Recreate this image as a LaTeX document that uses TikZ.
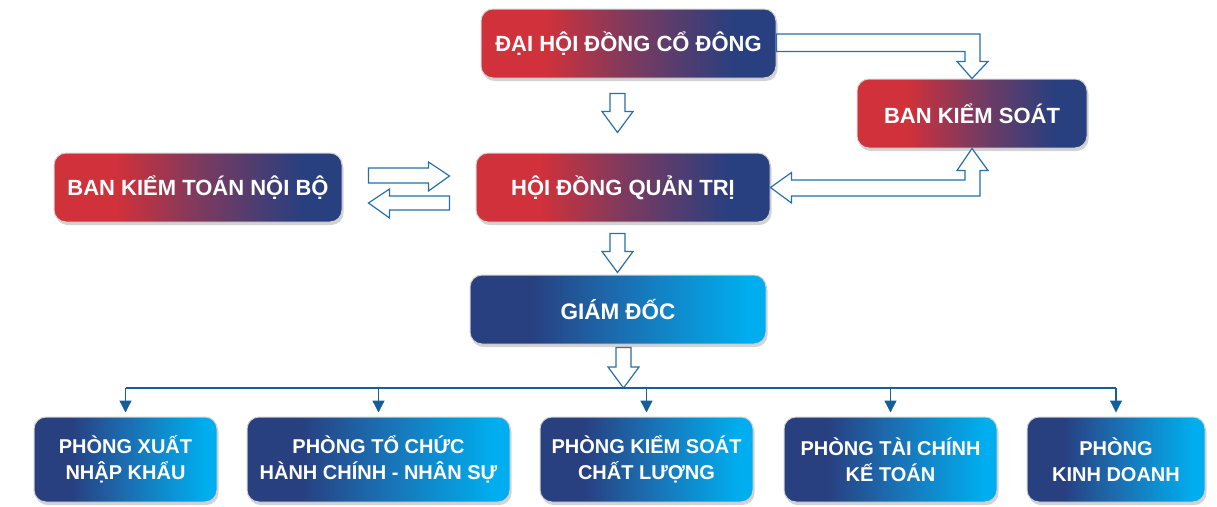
\documentclass[tikz,border=0pt]{standalone}
\usepackage{fontspec}
\setmainfont{Liberation Sans}
\usetikzlibrary{positioning,calc,shadows,arrows.meta}

\definecolor{cred}{HTML}{D0313A}
\definecolor{cplum}{HTML}{7E3A5E}
\definecolor{cnavy}{HTML}{283F80}
\definecolor{cblue}{HTML}{1B6DB0}
\definecolor{ccyan}{HTML}{00AEEF}
\definecolor{arrowblue}{HTML}{2770A8}
\definecolor{linkblue}{HTML}{155E97}

\pgfdeclarehorizontalshading{redtonavy}{100bp}{color(0bp)=(cred); color(36bp)=(cred); color(50bp)=(cplum); color(68bp)=(cnavy); color(100bp)=(cnavy)}
\pgfdeclarehorizontalshading{navytocyan}{100bp}{color(0bp)=(cnavy); color(35bp)=(cnavy); color(50bp)=(cblue); color(72bp)=(ccyan); color(100bp)=(ccyan)}

\tikzset{
	box/.style={rounded corners=12pt, draw=white!82!black, line width=1pt, text=white, align=center, inner sep=0pt,
		drop shadow={shadow xshift=1.5pt, shadow yshift=-3pt, opacity=0.35}},
	board/.style={box, shade, shading=redtonavy, minimum height=69pt, font=\bfseries\fontsize{22}{26}\selectfont},
	dept/.style={box, shade, shading=navytocyan, minimum height=85pt, font=\bfseries\fontsize{20}{26}\selectfont},
	hollow/.style={draw=arrowblue, line width=1.2pt, fill=white, line join=miter},
	link/.style={draw=linkblue, line width=1.3pt, -{Triangle[width=12pt,length=12pt]}, shorten >=4pt},
}

% hollow arrow pointing down, from #1 (top of shaft) to #2 (tip)
\newcommand{\hollowdown}[2]{\draw[hollow] ($#1+(-7.5,0)$) -- ($#1+(7.5,0)$) -- ($#2+(7.5,-21)$) -- ($#2+(15.5,-21)$) -- #2 -- ($#2+(-15.5,-21)$) -- ($#2+(-7.5,-21)$) -- cycle;}

\begin{document}
\begin{tikzpicture}[x=1pt, y=-1pt]
	\useasboundingbox (0,0) rectangle (1217,506);

	%% BOARD LEVEL
	\node[board, minimum width=295pt](dhdcd) at (628.5,43.5){ĐẠI HỘI ĐỒNG CỔ ĐÔNG};
	\node[board, minimum width=230pt](bks) at (972,113.5){BAN KIỂM SOÁT};
	\node[board, minimum width=294pt](hdqt) at (623,187.5){HỘI ĐỒNG QUẢN TRỊ};
	\node[board, minimum width=288pt, left=133pt of hdqt](bktnb){BAN KIỂM TOÁN NỘI BỘ};
	\node[board, shading=navytocyan, minimum width=296pt, font=\bfseries\fontsize{22.5}{26}\selectfont](gd) at (618,309.5){GIÁM ĐỐC};

	%% DEPARTMENTS
	\node[dept, minimum width=183pt](p1) at (125.5,459.5){PHÒNG XUẤT\\NHẬP KHẨU};
	\node[dept, minimum width=263pt, right=29pt of p1](p2){PHÒNG TỔ CHỨC\\HÀNH CHÍNH - NHÂN SỰ};
	\node[dept, minimum width=213pt, right=29pt of p2](p3){PHÒNG KIỂM SOÁT\\CHẤT LƯỢNG};
	\node[dept, minimum width=213pt, right=30pt of p3](p4){PHÒNG TÀI CHÍNH\\KẾ TOÁN};
	\node[dept, minimum width=178pt, right=29pt of p4](p5){PHÒNG\\KINH DOANH};

	% coordinates for the hollow arrows
	\coordinate (dh_out) at ($(dhdcd.south)+(-11,15)$);
	\coordinate (hq_in) at ($(hdqt.north)+(-5.5,-20)$);
	\coordinate (hq_out) at ($(hdqt.south)+(-5.5,11)$);
	\coordinate (gd_in) at ($(gd.north)+(-0.5,-2)$);
	\coordinate (gd_out) at ($(gd.south)+(5.5,3)$);
	\coordinate (bus) at (623.5,388);

	%% HOLLOW ARROWS
	\hollowdown{(dh_out)}{(hq_in)}
	\hollowdown{(hq_out)}{(gd_in)}
	\hollowdown{(gd_out)}{(bus)}

	\draw[hollow] ($(dhdcd.east)+(0,-9.5)$) -| ($(bks.north)+(8,-17)$) -- ($(bks.north)+(16,-17)$) -- (bks.north)
		-- ($(bks.north)+(-15,-17)$) -- ($(bks.north)+(-7,-17)$) |- ($(dhdcd.east)+(0,8)$) -- cycle;

	\draw[hollow] (hdqt.east) -- ++(21,-15) -- ++(0,7.5) -| ($(bks.south)+(-7,22)$) -- ($(bks.south)+(-15,22)$) -- (bks.south)
		-- ($(bks.south)+(16,22)$) -- ($(bks.south)+(8,22)$) |- ($(hdqt.east)+(21,8.5)$) -- ++(0,7) -- cycle;

	\draw[hollow] ($(bktnb.east)+(26,-19.5)$) -- ++(60,0) -- ++(0,-6) -- ++(21,14) -- ++(-21,15) -- ++(0,-8) -- ++(-60,0) -- cycle;
	\draw[hollow] ($(bktnb.east)+(26,15.5)$) -- ++(21,-14) -- ++(0,7) -- ++(60,0) -- ++(0,14) -- ++(-60,0) -- ++(0,8) -- cycle;

	%% BUS TO DEPARTMENTS
	\draw[draw=linkblue, line width=1.3pt] (p1 |- bus) -- (p5 |- bus);
	\foreach \p in {p1,p2,p3,p4,p5}
		\draw[link] (\p |- bus) -- (\p.north);

\end{tikzpicture}
\end{document}
